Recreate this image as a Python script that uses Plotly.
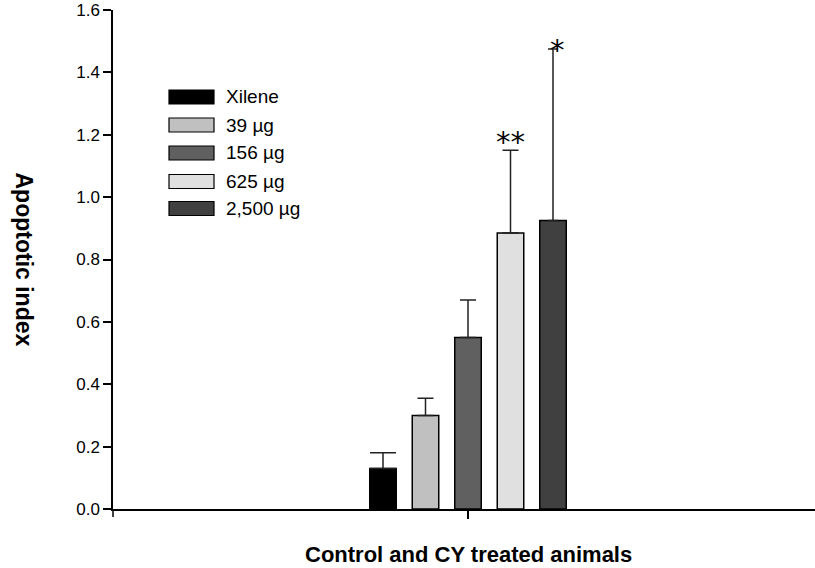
import plotly.graph_objects as go

# ---- data ----
category = ["Control and CY treated animals"]
series_names = ["Xilene", "39 \u00b5g", "156 \u00b5g", "625 \u00b5g", "2,500 \u00b5g"]
means = [0.13, 0.30, 0.55, 0.885, 0.925]
errors_up = [0.05, 0.055, 0.12, 0.265, 0.55]
significance = ["", "", "", "**", "*"]
y_ticks = [0.0, 0.2, 0.4, 0.6, 0.8, 1.0, 1.2, 1.4, 1.6]

# ---- styles ----
fills = ["#000000", "#c0c0c0", "#606060", "#e0e0e0", "#404040"]
cap_widths = [13, 8, 8, 8, 5]
star_shift = [0, 0, 0, -11, -20]
star_xoff = [0, 0, 0, 0, 4]

W, H = 815, 568
L, R, T, B = 113, 0, 10, 59
pw, ph = W - L - R, H - T - B
FONT = "Liberation Sans, Arial, Helvetica"

fig = go.Figure()
for name, m, e, c, cw in zip(series_names, means, errors_up, fills, cap_widths):
    fig.add_trace(go.Bar(
        x=category, y=[m], name=name,
        marker=dict(color=c, line=dict(color="#000000", width=1.5)),
        error_y=dict(type="data", array=[e], arrayminus=[0], symmetric=False,
                     color="#222222", thickness=1.5, width=cw),
        showlegend=False,
    ))

# significance marks above error bars
n = len(series_names)
spacing_px = 42.5
for i, (s, m, e, ys, xo) in enumerate(zip(significance, means, errors_up, star_shift, star_xoff)):
    if s:
        fig.add_annotation(x=category[0], y=m + e, xref="x", yref="y",
                           text=s, showarrow=False, yanchor="bottom",
                           xshift=(i - (n - 1) / 2) * spacing_px + xo,
                           yshift=ys,
                           font=dict(family="DejaVu Sans", size=29, color="#000000"))

# custom legend with wide swatches
sx0, sx1, tx = 169, 214, 224
row_y = [97, 125, 153, 181.5, 208.5]
for name, c, yy in zip(series_names, fills, row_y):
    fig.add_shape(type="rect", xref="paper", yref="paper",
                  x0=(sx0 - L) / pw, x1=(sx1 - L) / pw,
                  y0=(H - B - (yy + 7)) / ph, y1=(H - B - (yy - 7)) / ph,
                  fillcolor=c, line=dict(color="#000000", width=1.2))
    fig.add_annotation(xref="paper", yref="paper", x=(tx - L) / pw,
                       y=(H - B - yy) / ph, text=name, showarrow=False,
                       xanchor="left", yanchor="middle",
                       font=dict(family=FONT, size=19, color="#000000"))

# left tick on x axis (y-axis line extending below)
fig.add_shape(type="line", xref="paper", yref="paper", x0=0, x1=0,
              ysizemode="pixel", yanchor=0, y0=0, y1=-8,
              line=dict(color="#000000", width=1.5))

# axis title annotations
fig.add_annotation(xref="paper", yref="paper", x=(24 - L) / pw, y=0.5,
                   text="<b>Apoptotic index</b>", textangle=90, showarrow=False,
                   xanchor="center", yanchor="middle",
                   font=dict(family=FONT, size=23, color="#000000"))
fig.add_annotation(xref="paper", yref="paper", x=(468 - L) / pw,
                   y=-(554 - (H - B)) / ph,
                   text="<b>Control and CY treated animals</b>", showarrow=False,
                   xanchor="center", yanchor="middle",
                   font=dict(family=FONT, size=22, color="#000000"))

frac = (468 - L) / pw
r_right = 0.5 / frac - 0.5  # category center sits at px 468
span = r_right + 0.5
group_units = n * spacing_px * span / pw

fig.update_layout(
    width=W, height=H,
    margin=dict(l=L, r=R, t=T, b=B),
    paper_bgcolor="white", plot_bgcolor="white",
    barmode="group",
    bargap=1 - group_units,
    bargroupgap=1 - 26.5 / spacing_px,
    font=dict(family=FONT, size=15, color="#000000"),
    xaxis=dict(range=[-0.5, r_right], showticklabels=False, ticks="outside",
               ticklen=8, tickwidth=1.5, tickcolor="#000000",
               showline=True, linecolor="#000000", linewidth=1.5,
               showgrid=False, zeroline=False),
    yaxis=dict(range=[0, 1.6], tickvals=y_ticks, tickformat=".1f",
               ticks="outside", ticklen=8, tickwidth=1.5, tickcolor="#000000",
               showline=True, linecolor="#000000", linewidth=1.5,
               showgrid=False, zeroline=False,
               tickfont=dict(family=FONT, size=17)),
)

fig.write_html("out.html")
